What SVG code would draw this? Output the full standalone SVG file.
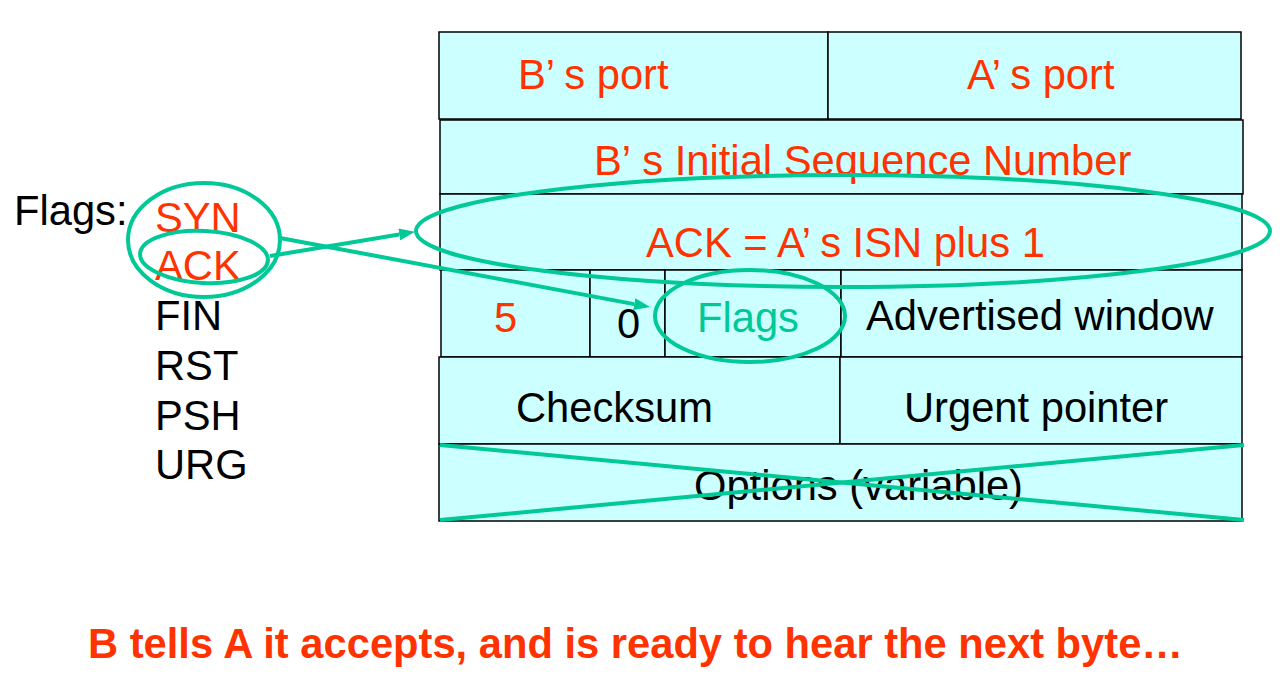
<svg xmlns="http://www.w3.org/2000/svg" width="1283" height="679" viewBox="0 0 1283 679">
<style>
  .cell { fill: #CCFFFF; stroke: #000; stroke-width: 1.5; }
  text { font-family: "Liberation Sans", Arial, sans-serif; font-size: 41.7px; }
  .red { fill: #FF3300; }
  .blk { fill: #000; }
  .teal { fill: #00C896; }
  .mark { fill: none; stroke: #00C896; stroke-width: 4; }
  .bold { font-weight: bold; }
</style>
<defs>
  <marker id="ah" viewBox="0 -6 16 12" refX="0" refY="0" markerWidth="16" markerHeight="12" markerUnits="userSpaceOnUse" orient="auto">
    <path d="M0,-6 L16,0 L0,6 z" fill="#00C896"/>
  </marker>
</defs>
<rect width="1283" height="679" fill="#fff"/>

<g id="row1">
  <rect class="cell" x="439" y="32" width="389" height="87"/>
  <rect class="cell" x="828" y="32" width="413" height="87"/>
  <text class="red" x="518" y="89">B’<tspan dx="10">s port</tspan></text>
  <text class="red" x="967" y="89">A’<tspan dx="10">s port</tspan></text>
</g>
<g id="row2">
  <rect class="cell" x="440" y="120" width="803" height="74"/>
  <text class="red" x="594" y="175">B’<tspan dx="12">s Initial Sequence Number</tspan></text>
</g>
<g id="row3">
  <rect class="cell" x="440" y="194" width="802" height="76"/>
  <text class="red" x="646" y="257">ACK = A’<tspan dx="10">s ISN plus 1</tspan></text>
</g>
<g id="row4">
  <rect class="cell" x="441" y="270" width="149" height="87"/>
  <rect class="cell" x="590" y="270" width="75" height="87"/>
  <rect class="cell" x="665" y="270" width="176" height="87"/>
  <rect class="cell" x="841" y="270" width="401" height="87"/>
  <text class="red" x="494" y="332">5</text>
  <text class="blk" x="617" y="338">0</text>
  <text class="teal" x="697" y="332">Flags</text>
  <text class="blk" x="866" y="330">Advertised window</text>
</g>
<g id="row5">
  <rect class="cell" x="439" y="357" width="401" height="87"/>
  <rect class="cell" x="840" y="357" width="402" height="87"/>
  <text class="blk" x="516" y="422">Checksum</text>
  <text class="blk" x="904" y="422">Urgent pointer</text>
</g>
<g id="row6">
  <rect class="cell" x="439" y="444" width="803" height="77"/>
  <text class="blk" x="694" y="500">Options (variable)</text>
  <line class="mark" x1="440" y1="445" x2="1244" y2="520"/>
  <line class="mark" x1="440" y1="520" x2="1244" y2="445"/>
</g>

<g id="flag-list">
  <text class="blk" x="14" y="225">Flags:</text>
  <text class="red" x="155" y="232">SYN</text>
  <text class="red" x="155" y="280">ACK</text>
  <text class="blk" x="155" y="330">FIN</text>
  <text class="blk" x="155" y="380">RST</text>
  <text class="blk" x="155" y="430">PSH</text>
  <text class="blk" x="155" y="479">URG</text>
</g>

<g id="highlights">
  <ellipse class="mark" cx="204" cy="240" rx="76" ry="57"/>
  <ellipse class="mark" cx="204" cy="257" rx="64" ry="26" transform="rotate(3 204 257)"/>
  <ellipse class="mark" cx="843" cy="231" rx="427" ry="56"/>
  <ellipse class="mark" cx="750" cy="316" rx="95" ry="46"/>
</g>

<g id="connectors">
  <line class="mark" x1="270" y1="256" x2="399.2" y2="234.5" marker-end="url(#ah)"/>
  <line class="mark" x1="280" y1="238" x2="634.3" y2="304.1" marker-end="url(#ah)"/>
</g>

<g id="caption">
  <text class="red bold" x="88" y="658">B tells A it accepts, and is ready to hear the next byte…</text>
</g>
</svg>
